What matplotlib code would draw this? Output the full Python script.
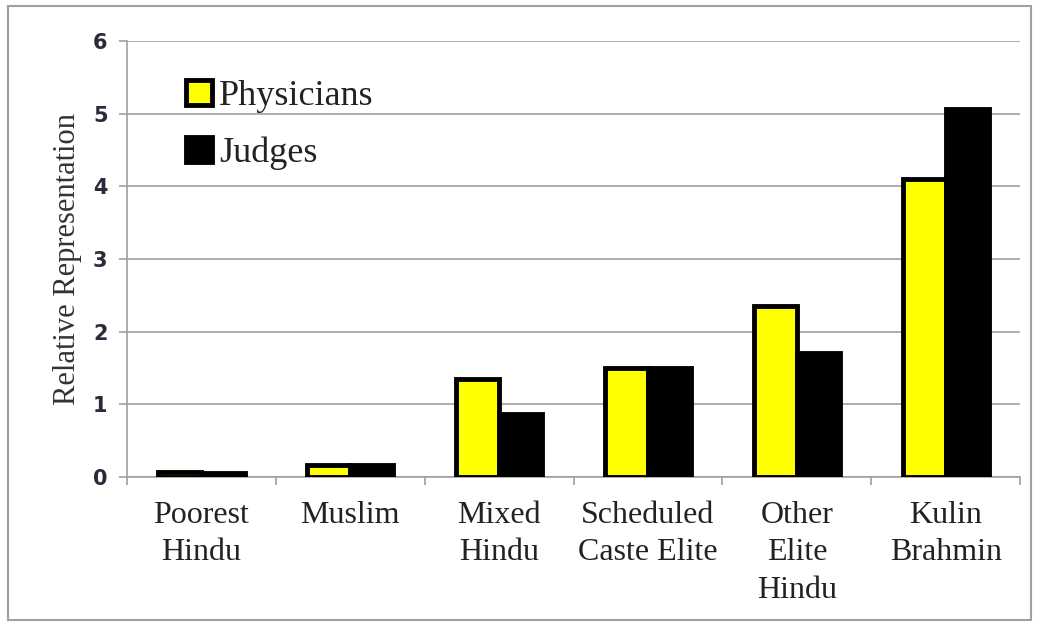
import matplotlib
matplotlib.use("Agg")
import matplotlib.pyplot as plt
import numpy as np
from matplotlib.patches import Rectangle

categories = ["Poorest\nHindu", "Muslim", "Mixed\nHindu", "Scheduled\nCaste Elite", "Other\nElite\nHindu", "Kulin\nBrahmin"]
physicians = [0.07, 0.16, 1.35, 1.50, 2.35, 4.10]
judges = [0.05, 0.16, 0.87, 1.50, 1.71, 5.06]
yticks = [0, 1, 2, 3, 4, 5, 6]

serif = ["Liberation Serif", "DejaVu Serif"]

fig = plt.figure(figsize=(10.41, 6.28), dpi=100)
# outer frame
fig.patches.append(Rectangle((0.008, 0.012), 0.982, 0.978, transform=fig.transFigure,
                             fill=False, edgecolor="#a0a0a0", linewidth=1.5))
ax = fig.add_axes([0.122, 0.2404, 0.858, 0.6943])

x = np.arange(len(categories))
w = 0.29
ax.bar(x - w / 2, physicians, width=w, color="#ffff00", edgecolor="black", linewidth=3.5, zorder=3, label="Physicians")
ax.bar(x + w / 2, judges, width=w, color="black", edgecolor="black", linewidth=3.5, zorder=3, label="Judges")

ax.set_xlim(-0.5, len(categories) - 0.5)
ax.set_ylim(0, 6)
ax.set_yticks(yticks)
ax.set_yticklabels([str(t) for t in yticks], fontsize=15, family="DejaVu Sans",
                   fontweight="semibold", color="#2a2a3a")
ax.yaxis.grid(True, color="#a0a0a0", linewidth=1.2, zorder=0)
ax.set_axisbelow(True)

ax.set_xticks(x)
ax.set_xticklabels(categories, fontsize=23, family=serif, linespacing=1.4, color="#222222")
ax.tick_params(axis="x", length=0, pad=17)
ax.set_xticks(np.arange(-0.5, len(categories)), minor=True)
ax.tick_params(axis="x", which="minor", length=6, color="#a0a0a0", width=1.2)
ax.tick_params(axis="y", length=6, color="#a0a0a0", width=1.2, pad=8)

for s in ["top", "right"]:
    ax.spines[s].set_visible(False)
for s in ["left", "bottom"]:
    ax.spines[s].set_color("#a0a0a0")
    ax.spines[s].set_linewidth(1.2)

ax.set_ylabel("Relative Representation", fontsize=22, family=serif, color="#333333", labelpad=8)

leg = ax.legend(loc="upper left", bbox_to_anchor=(0.03, 0.985), frameon=False,
                prop={"family": serif, "size": 26}, handlelength=0.7, handleheight=0.7,
                handletextpad=0.2, labelspacing=0.65)
for t in leg.get_texts():
    t.set_color("#222222")

fig.savefig("out.png", dpi=100)
